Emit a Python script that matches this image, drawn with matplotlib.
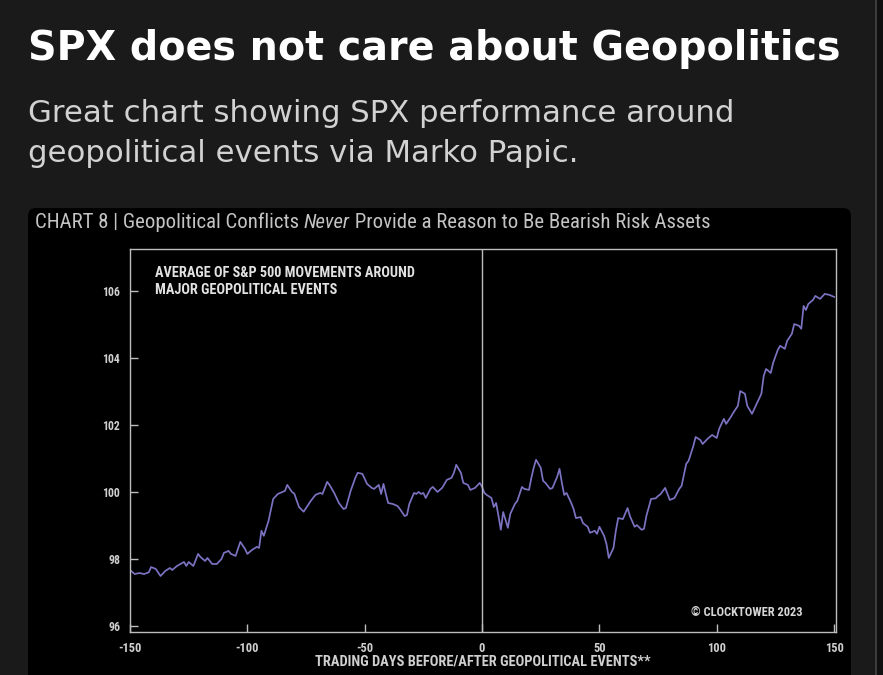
import matplotlib
matplotlib.use("Agg")
import matplotlib.pyplot as plt
from matplotlib import font_manager
from matplotlib.patches import FancyBboxPatch, Rectangle
from matplotlib.transforms import IdentityTransform

# ---------------- data ----------------
days = [-150, -148, -146, -144, -142, -141, -139, -137, -135, -133, -132, -130, -127, -126,
        -125, -123, -121, -120, -118, -117, -115, -113, -111, -110, -108, -107, -105, -103,
        -101, -100, -98, -96, -95, -94, -93, -91, -89, -87, -85, -84, -83, -81, -80, -78,
        -76, -73, -71, -69, -68, -66, -65, -63, -61, -59, -58, -56, -54, -53, -51, -49,
        -47, -46, -44, -43, -42, -41, -40, -38, -36, -35, -33, -32, -31, -29, -28, -27,
        -26, -25, -24, -22, -21, -19, -17, -15, -13, -12, -11, -9, -8, -6, -5, -3, -1,
        0, 1, 2, 4, 5, 6, 7, 8, 9, 11, 12, 14, 15, 17, 18, 20, 21, 22, 23, 25, 26, 27, 29,
        30, 32, 33, 34, 35, 36, 38, 39, 40, 42, 43, 45, 46, 48, 49, 50, 52, 53, 54, 56, 57,
        58, 60, 62, 63, 65, 66, 68, 69, 70, 72, 74, 75, 76, 78, 80, 82, 84, 85, 87, 88, 90,
        91, 93, 94, 96, 98, 100, 101, 102, 103, 104, 106, 107, 109, 110, 112, 113, 115,
        117, 119, 120, 121, 123, 124, 126, 127, 129, 130, 132, 133, 135, 136, 137, 138,
        139, 141, 142, 144, 146, 148, 150]
spx = [97.67, 97.55, 97.58, 97.55, 97.60, 97.76, 97.70, 97.49, 97.64, 97.73, 97.67, 97.79,
       97.91, 97.79, 97.91, 97.79, 98.15, 98.06, 97.94, 98.03, 97.85, 97.85, 98.00, 98.18,
       98.24, 98.15, 98.09, 98.51, 98.30, 98.15, 98.27, 98.36, 98.33, 98.84, 98.69, 99.13,
       99.79, 99.94, 100.00, 100.03, 100.21, 100.00, 99.95, 99.55, 99.41, 99.73, 99.91,
       99.97, 99.94, 100.30, 100.21, 99.97, 99.67, 99.49, 99.52, 100.03, 100.42, 100.57,
       100.54, 100.24, 100.12, 100.09, 100.21, 99.94, 100.24, 99.94, 99.67, 99.64, 99.58,
       99.49, 99.28, 99.31, 99.64, 99.97, 99.94, 100.00, 99.94, 99.97, 99.82, 100.09,
       100.15, 100.00, 100.12, 100.36, 100.42, 100.57, 100.81, 100.57, 100.27, 100.21,
       100.06, 100.12, 100.27, 100.15, 99.97, 99.91, 99.82, 99.55, 99.67, 99.28, 98.87,
       99.40, 98.93, 99.34, 99.64, 99.73, 100.15, 100.09, 100.06, 100.42, 100.72, 100.96,
       100.72, 100.33, 100.27, 100.09, 100.12, 100.45, 100.69, 100.27, 99.91, 99.97, 99.67,
       99.49, 99.22, 99.25, 99.07, 98.96, 98.78, 98.84, 98.75, 98.96, 98.69, 98.45, 98.03,
       98.33, 98.84, 99.22, 99.19, 99.52, 99.28, 98.96, 99.01, 98.87, 98.90, 99.28, 99.79,
       99.81, 99.88, 99.93, 100.12, 99.76, 99.82, 100.09, 100.18, 100.84, 100.93, 101.37,
       101.64, 101.55, 101.43, 101.58, 101.70, 101.61, 101.88, 102.03, 102.18, 102.03,
       102.24, 102.36, 102.57, 103.01, 102.93, 102.57, 102.33, 102.63, 102.93, 103.46,
       103.67, 103.55, 103.85, 104.24, 104.36, 104.27, 104.51, 104.72, 105.01, 104.96,
       104.87, 105.55, 105.43, 105.61, 105.73, 105.85, 105.76, 105.91, 105.88, 105.82]
x_ticks = [-150, -100, -50, 0, 50, 100, 150]
y_ticks = [96, 98, 100, 102, 104, 106]

title = "SPX does not care about Geopolitics"
subtitle = ["Great chart showing SPX performance around",
            "geopolitical events via Marko Papic."]
header_parts = ["CHART 8 | Geopolitical Conflicts ", "Never", " Provide a Reason to Be Bearish Risk Assets"]
note = ["AVERAGE OF S&P 500 MOVEMENTS AROUND", "MAJOR GEOPOLITICAL EVENTS"]
credit = "\u00a9 CLOCKTOWER 2023"
xlabel = "TRADING DAYS BEFORE/AFTER GEOPOLITICAL EVENTS**"


def pick(names):
    for n in names:
        try:
            font_manager.findfont(font_manager.FontProperties(family=n), fallback_to_default=False)
            return n
        except Exception:
            pass
    return "DejaVu Sans"


narrow = pick(["Roboto Condensed", "Liberation Sans Narrow", "Roboto"])
head_font = "DejaVu Sans"

W, H = 883, 675
fig = plt.figure(figsize=(W / 100, H / 100), dpi=100)
fig.patch.set_facecolor("#1a1a1a")
fig.canvas.draw()
renderer = fig.canvas.get_renderer()


def fx(x):
    return x / W


def fy(y):
    return 1 - y / H


def fit(t, target):
    w = t.get_window_extent(renderer).width
    t.set_fontsize(t.get_fontsize() * target / w)


# right side strip / border
fig.patches.append(Rectangle((876, 0), 7, H, transform=IdentityTransform(),
                             facecolor="#101010", edgecolor="none", zorder=-2))
fig.patches.append(Rectangle((875, 0), 2, H, transform=IdentityTransform(),
                             facecolor="#3c3c3c", edgecolor="none", zorder=-2))
# chart panel
fig.patches.append(FancyBboxPatch((28, -20), 823, H - 208 + 20, transform=IdentityTransform(),
                                  boxstyle="round,pad=0,rounding_size=8",
                                  facecolor="#000000", edgecolor="none", zorder=-2))

t = fig.text(fx(28), fy(60), title, fontsize=27, fontweight="bold", color="#ffffff",
             family=head_font, va="baseline", ha="left")
fit(t, 812)
s1 = fig.text(fx(28), fy(122), subtitle[0], fontsize=19.5, color="#d2d2d2",
              family=head_font, va="baseline", ha="left")
fit(s1, 709)
s2 = fig.text(fx(28), fy(162), subtitle[1], fontsize=s1.get_fontsize(), color="#d2d2d2",
              family=head_font, va="baseline", ha="left")

# header with italic word
parts = []
xpos = 35
for i, part in enumerate(header_parts):
    tt = fig.text(fx(xpos), fy(228), part, fontsize=12.5, color="#c4c4c4", family=narrow,
                  style="italic" if i == 1 else "normal", va="baseline", ha="left")
    parts.append(tt)
    xpos = tt.get_window_extent(renderer).x1
scale = (713 - 35) / (xpos - 35)
xpos = 35
for tt in parts:
    tt.set_fontsize(12.5 * scale)
    tt.set_x(fx(xpos))
    xpos = tt.get_window_extent(renderer).x1

# note inside the chart (figure coordinates)
n1 = fig.text(fx(155), fy(277), note[0], family=narrow, fontweight="bold", fontsize=9,
              color="#e2e2e2", va="baseline", ha="left")
fit(n1, 260)
fig.text(fx(155), fy(294), note[1], family=narrow, fontweight="bold", fontsize=n1.get_fontsize(),
         color="#e2e2e2", va="baseline", ha="left")
cr = fig.text(fx(747), fy(613), credit, family=narrow, fontweight="bold", fontsize=8,
              color="#d6d6d6", va="center", ha="center")
fit(cr, 111)
xl = fig.text(fx(483), fy(662), xlabel, family=narrow, fontweight="bold", fontsize=9,
              color="#cfcfcf", va="center", ha="center")
fit(xl, 337)

ax = fig.add_axes([fx(130), fy(632), fx(836) - fx(130), fy(249) - fy(632)])
ax.set_facecolor("#000000")
ax.plot(days, spx, color="#7b73c2", lw=1.25)
ax.axvline(0, color="#bdbdbd", lw=1.0)
ax.set_xlim(-150, 150.8)
ax.set_ylim(95.82, 107.25)
ax.set_xticks(x_ticks)
ax.set_yticks(y_ticks)
ax.set_xticklabels([str(v) for v in x_ticks], family=narrow, fontweight="bold", fontsize=9,
                   color="#cfcfcf")
ax.set_yticklabels([str(v) for v in y_ticks], family=narrow, fontweight="bold", fontsize=8.5,
                   color="#cfcfcf")
ax.tick_params(axis="both", direction="in", length=6, width=1, colors="#bdbdbd", pad=7)
ax.tick_params(axis="x", pad=7)
for lbl in ax.get_xticklabels() + ax.get_yticklabels():
    lbl.set_color("#cfcfcf")
for s in ax.spines.values():
    s.set_color("#bdbdbd")
    s.set_linewidth(1.0)

fig.savefig("out.png", dpi=100, facecolor=fig.get_facecolor())
